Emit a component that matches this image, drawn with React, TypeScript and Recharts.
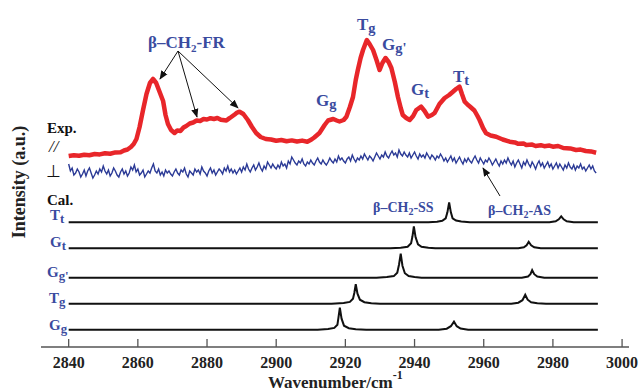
import React from "react";
import {Line, LineChart, XAxis, YAxis} from "recharts";

// wavenumber axis
const xTicks = [2840, 2860, 2880, 2900, 2920, 2940, 2960, 2980, 3000];

// Exp. parallel (//) polarization, red
const expParallel: Array<[number, number]> = [
    [2840, 191], [2841.5, 191.8], [2843, 191.2], [2844.5, 192.3], [2846, 191.8], [2847.5, 193],
    [2849, 192.6], [2850.5, 193.8], [2852, 193.3], [2853.5, 194.6], [2855, 194.8], [2856, 196.5],
    [2857, 197.5], [2858, 200], [2858.8, 203], [2859.6, 208], [2860.5, 220], [2861.5, 237], [2862.5, 253],
    [2863.5, 264], [2864.4, 268], [2865.3, 264], [2866.3, 255], [2867.3, 246], [2868, 232],
    [2868.7, 223], [2869.6, 217], [2870.6, 214], [2871.4, 216.5], [2872.3, 216], [2873.2, 219.5], [2874, 221],
    [2875, 223.5], [2876, 224.5], [2877, 226.5], [2878, 226], [2879, 228], [2880, 227.5], [2881, 228.8],
    [2882, 228], [2883, 229], [2884, 227.2], [2885.6, 226.5], [2886.4, 228.6], [2887, 230],
    [2888, 232.5], [2888.7, 234.4], [2889.4, 235.3], [2890.5, 233], [2891.8, 227], [2893, 220], [2894.2, 214],
    [2895.5, 210], [2897, 208], [2898.5, 207.5], [2900, 206.2], [2901.5, 207], [2903, 205.8], [2904.5, 206.6],
    [2906, 205.5], [2907.5, 206.4], [2909, 205.3], [2910.2, 207.5],
    [2911, 209.5], [2912.5, 214], [2914, 222], [2915, 226.5], [2916.5, 228], [2917.5, 226.5], [2918.3, 225.5],
    [2919.5, 227], [2920.3, 230.3], [2921.3, 240], [2922.2, 250], [2923, 267], [2923.6, 277],
    [2924.4, 289], [2925.1, 297], [2926.2, 307], [2927, 303], [2928, 297], [2929, 287],
    [2929.9, 277], [2930.7, 284], [2931.6, 289], [2932.5, 285], [2933.3, 279], [2934.3, 265],
    [2935.2, 250], [2936, 239], [2936.6, 232], [2937.6, 229], [2938.6, 227], [2939.6, 231],
    [2940.5, 237], [2941.9, 240.3], [2942.9, 236], [2943.9, 230.3], [2945, 232], [2945.8, 234],
    [2947.2, 243], [2948.7, 249], [2950, 252], [2951.1, 255.3], [2952, 258], [2953, 260.3],
    [2953.7, 253], [2954.5, 245.3], [2955.3, 242.5], [2956, 240.5], [2957.3, 236.5], [2958.2, 231], [2958.8, 227],
    [2959.8, 219], [2960.7, 213.7], [2962, 211.5], [2963.6, 210.3], [2965.5, 207.5], [2967.5, 205.3],
    [2969, 204.6], [2970, 203.2], [2971.5, 203.6], [2972.3, 202], [2974, 202.4], [2975, 201], [2976.5, 201.8],
    [2977.5, 200.8], [2979, 201.4], [2980, 200.3], [2981.5, 201], [2983, 199], [2985, 198.6],
    [2986.7, 197], [2988, 197.4], [2989.5, 196], [2991, 195.6], [2992.5, 194.3],
];

// Exp. perpendicular polarization, blue, one value per half cm-1 from 2840
const perpStart = 2840;
const perpStep = 0.5;
const expPerp = [
    183, 176, 179, 172, 174, 178, 175, 170, 173, 177, 171, 176, 179, 174, 169, 172, 176, 173, 178, 175,
    181, 176, 173, 177, 171, 174, 179, 176, 172, 170, 175, 178, 173, 176, 171, 174, 180, 177, 182, 175,
    178, 172, 174, 177, 170, 173, 176, 174, 179, 183, 176, 174, 178, 172, 175, 171, 177, 174, 176, 173,
    171, 175, 178, 174, 172, 177, 175, 179, 173, 170, 176, 174, 172, 178, 175, 177, 173, 180, 176, 174,
    171, 176, 179, 174, 177, 172, 175, 178, 176, 173, 179, 176, 181, 175, 178, 174, 177, 173, 176, 179,
    175, 180, 177, 183, 178, 175, 179, 182, 177, 180, 184, 179, 176, 181, 178, 185, 182, 179, 183, 180,
    178, 182, 179, 185, 181, 183, 179, 186, 183, 190, 187, 184, 182, 186, 184, 188, 183, 181, 185, 183,
    187, 184, 182, 186, 189, 185, 183, 187, 184, 182, 185, 189, 186, 184, 188, 185, 191, 187, 189, 186,
    184, 188, 190, 186, 192, 188, 185, 189, 187, 191, 188, 193, 190, 187, 191, 189, 186, 190, 194, 191,
    188, 192, 190, 195, 191, 189, 193, 196, 192, 194, 190, 197, 193, 191, 195, 192, 190, 194, 189, 192,
    195, 191, 188, 193, 190, 192, 189, 194, 191, 188, 192, 190, 187, 191, 189, 193, 190, 186, 189, 185,
    188, 191, 186, 189, 184, 187, 190, 186, 183, 188, 185, 189, 186, 184, 188, 191, 187, 184, 189, 186,
    183, 187, 185, 189, 186, 182, 185, 188, 184, 181, 186, 183, 187, 184, 189, 185, 182, 186, 180, 184,
    187, 183, 179, 185, 182, 187, 183, 180, 185, 182, 178, 183, 186, 181, 184, 179, 182, 185, 180, 183,
    178, 181, 184, 179, 183, 180, 177, 182, 179, 184, 180, 178, 182, 177, 181, 179, 183, 178, 180, 176,
    179, 182, 178, 181, 176, 174,
];

// Cal. spectra [wavenumber, intensity]
const calTt: Array<[number, number]> = [
    [2840, 0], [2944, 0], [2946.5, 0.5], [2948, 1.5], [2949, 4], [2949.5, 10], [2950, 20],
    [2950.5, 10], [2951, 4], [2952, 1.8], [2953.5, 0.8], [2956, 0], [2979, 0], [2980.8, 1],
    [2981.7, 3], [2982.4, 6], [2983.1, 3], [2984, 1], [2986, 0], [2993, 0],
];
const calGt: Array<[number, number]> = [
    [2840, 0], [2933, 0], [2936, 0.6], [2938, 1.6], [2939, 5], [2939.4, 12], [2939.8, 22],
    [2940.3, 11], [2941, 4], [2942, 1.6], [2944, 0.6], [2946, 0], [2970, 0], [2971.6, 1],
    [2972.4, 3], [2973, 6.5], [2973.7, 3], [2974.6, 1], [2976.5, 0], [2993, 0],
];
const calGgp: Array<[number, number]> = [
    [2840, 0], [2929, 0], [2932, 0.6], [2934, 1.6], [2935, 5], [2935.5, 13], [2936, 24],
    [2936.5, 12], [2937.2, 4.5], [2938.3, 1.6], [2940, 0.6], [2942, 0], [2971, 0], [2972.8, 1.2],
    [2973.5, 3.5], [2974, 7.5], [2974.6, 3.5], [2975.5, 1.2], [2977.5, 0], [2993, 0],
];
const calTg: Array<[number, number]> = [
    [2840, 0], [2916, 0], [2919.5, 0.6], [2921.3, 1.8], [2922.2, 5], [2922.6, 11], [2923, 19.5],
    [2923.5, 10], [2924.2, 4], [2925.5, 1.5], [2927.5, 0.5], [2930, 0], [2968, 0], [2970, 1],
    [2971.2, 3.5], [2972, 9], [2972.7, 4], [2973.7, 1.4], [2975.5, 0.4], [2978, 0], [2993, 0],
];
const calGg: Array<[number, number]> = [
    [2840, 0], [2912, 0], [2915, 0.6], [2916.8, 1.8], [2917.7, 5], [2918, 12], [2918.4, 22],
    [2918.9, 11], [2919.6, 4], [2921, 1.5], [2923, 0.5], [2926, 0], [2947, 0], [2949.3, 1],
    [2950.5, 3.5], [2951.4, 8], [2952.2, 3.5], [2953.3, 1.2], [2955.5, 0], [2993, 0],
];
const calSpectra = [calTt, calGt, calGgp, calTg, calGg];
const calOffsets = [124.7, 98.7, 69.3, 43.3, 17.3];

const W = 641;
const H = 391;
const X_AXIS_H = 44;
const PLOT_BOTTOM = H - X_AXIS_H;
const SERIF = {fontFamily: "'Liberation Serif', 'Times New Roman', Times, serif"};
const BLUE_TXT = "#3a4b9f";

const toRows = (pts: Array<[number, number]>, offset = 0) => pts.map(([wn, v]) => ({wn, v: v + offset}));
const expParRows = toRows(expParallel);
const expPerpRows = expPerp.map((v, i) => ({wn: perpStart + i * perpStep, v}));
const calRows = calSpectra.map((s, i) => toRows(s, calOffsets[i]));

const Tick = (props: any) => {
    const {x, payload} = props;
    return <g>
        <line x1={x} x2={x} y1={PLOT_BOTTOM} y2={PLOT_BOTTOM - 8} stroke="#555" strokeWidth={1.3}/>
        <text x={x} y={PLOT_BOTTOM + 21} textAnchor="middle" style={SERIF} fontWeight="bold"
              fontSize={16} fill="#222">{payload.value}</text>
    </g>
}

// label with a lowered small second letter, e.g. T_g
const Conf = ({x, y, big, small, prime, size = 17}: any) =>
    <text x={x} y={y} style={SERIF} fontWeight="bold" fontSize={size} fill={BLUE_TXT}>
        {big}<tspan fontSize={size * 0.85} dy={3}>{small}</tspan>{prime ? <tspan fontSize={size * 0.85}>'</tspan> : null}
    </text>

const Overlay = () =>
    <svg width={W} height={H} style={{position: "absolute", left: 0, top: 0, pointerEvents: "none"}}>
        <defs>
            <marker id="ah" viewBox="0 0 10 10" refX="9" refY="5" markerWidth="9" markerHeight="9"
                    orient="auto-start-reverse" markerUnits="userSpaceOnUse">
                <path d="M0,1 L10,5 L0,9 z" fill="#111"/>
            </marker>
        </defs>
        <text x={19} y={182} transform="rotate(-90 19 182)" textAnchor="middle" dominantBaseline="central"
              style={SERIF} fontWeight="bold" fontSize={18} fill="#222">Intensity (a.u.)</text>
        <text x={268} y={388} style={SERIF} fontWeight="bold" fontSize={17} fill="#222">
            Wavenumber/cm<tspan fontSize={12} dy={-9}>-1</tspan>
        </text>

        <text x={148} y={48} style={SERIF} fontWeight="bold" fontSize={17} fill={BLUE_TXT}>
            β–CH<tspan fontSize={11} dy={4}>2</tspan><tspan dy={-4}>-FR</tspan>
        </text>
        <line x1={178} y1={51} x2={160} y2={79} stroke="#111" strokeWidth={1} markerEnd="url(#ah)"/>
        <line x1={178} y1={51} x2={197} y2={117} stroke="#111" strokeWidth={1} markerEnd="url(#ah)"/>
        <line x1={178} y1={51} x2={238} y2={108} stroke="#111" strokeWidth={1} markerEnd="url(#ah)"/>

        <Conf x={316} y={106} big="G" small="g"/>
        <Conf x={357} y={30} big="T" small="g"/>
        <Conf x={382} y={50} big="G" small="g" prime/>
        <Conf x={411} y={95} big="G" small="t"/>
        <Conf x={453} y={82} big="T" small="t"/>

        <text x={47} y={133} style={SERIF} fontWeight="bold" fontSize={15} fill="#111">Exp.</text>
        <text x={49} y={152} style={SERIF} fontStyle="italic" fontSize={17} fill="#111">//</text>
        <text x={46} y={177} style={SERIF} fontSize={17} fill="#111">⊥</text>
        <text x={47} y={205} style={SERIF} fontWeight="bold" fontSize={15} fill="#111">Cal.</text>

        <Conf x={50} y={220} big="T" small="t" size={15}/>
        <Conf x={50} y={247} big="G" small="t" size={15}/>
        <Conf x={47} y={277} big="G" small="g" prime size={15}/>
        <Conf x={49} y={303} big="T" small="g" size={15}/>
        <Conf x={49} y={330} big="G" small="g" size={15}/>

        <text x={373} y={212} style={SERIF} fontWeight="bold" fontSize={14} fill={BLUE_TXT}>
            β–CH<tspan fontSize={10} dy={3}>2</tspan><tspan dy={-3}>-SS</tspan>
        </text>
        <text x={488} y={215} style={SERIF} fontWeight="bold" fontSize={14} fill={BLUE_TXT}>
            β–CH<tspan fontSize={10} dy={3}>2</tspan><tspan dy={-3}>-AS</tspan>
        </text>
        <line x1={500} y1={196} x2={483} y2={168} stroke="#111" strokeWidth={1} markerEnd="url(#ah)"/>
    </svg>

const App: React.FC = () => {
    return <div style={{position: "absolute", left: 0, top: 0, width: W, height: H, background: "#fff"}}>
        <LineChart width={W} height={H} margin={{top: 10, right: 12, bottom: 0, left: 41}}>
            <XAxis xAxisId={0} dataKey="wn" type="number" domain={[2832, 3002]} ticks={xTicks}
                   allowDataOverflow height={X_AXIS_H} tick={<Tick/>} tickLine={false}
                   axisLine={{stroke: "#555", strokeWidth: 1.5}} interval={0}/>
            <XAxis xAxisId="top" orientation="top" type="number" domain={[2832, 3002]} height={0}
                   tick={false} tickLine={false} axisLine={{stroke: "#8a8a8a", strokeWidth: 1.8}}/>
            <YAxis yAxisId={0} type="number" domain={[0, 337]} width={0} tick={false} tickLine={false}
                   axisLine={{stroke: "#555", strokeWidth: 1.8}} allowDataOverflow/>
            <YAxis yAxisId="r" orientation="right" type="number" domain={[0, 337]} width={0} tick={false}
                   tickLine={false} axisLine={{stroke: "#8a8a8a", strokeWidth: 1.3}}/>
            <Line data={expPerpRows} dataKey="v" stroke="#2b3a96" strokeWidth={1.4} dot={false}
                  isAnimationActive={false} type="linear"/>
            <Line data={expParRows} dataKey="v" stroke="#e8262a" strokeWidth={4.5} dot={false}
                  isAnimationActive={false} type="linear" strokeLinejoin="round"/>
            {calRows.map((rows, i) =>
                <Line key={i} data={rows} dataKey="v" stroke="#111" strokeWidth={2} dot={false}
                      isAnimationActive={false} type="linear"/>)}
        </LineChart>
        <Overlay/>
    </div>
}

export default App
